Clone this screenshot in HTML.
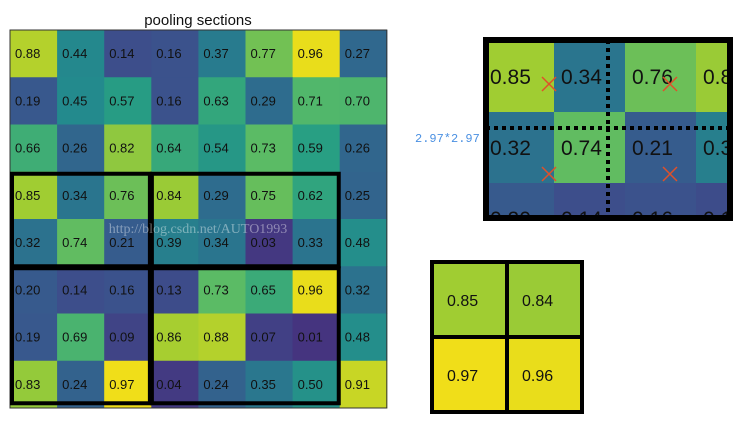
<!DOCTYPE html>
<html><head><meta charset="utf-8"><style>
body{margin:0;background:#fff;width:744px;height:422px;overflow:hidden;font-family:"Liberation Sans","DejaVu Sans",sans-serif}
svg{position:absolute;left:0;top:0}
</style></head><body>
<svg id="s" width="744" height="422">
<defs><clipPath id="zc"><rect x="486" y="40" width="244" height="178"/></clipPath></defs>
<text x="198" y="25" text-anchor="middle" font-size="15" fill="#111">pooling sections</text>
<g id="grid"></g>
<g id="pools"></g>
<text x="198" y="233" text-anchor="middle" font-size="14" fill="#ffffff" fill-opacity="0.4" font-family="Liberation Serif,serif">http://blog.csdn.net/AUTO1993</text>
<g id="zoomp"></g>
<text x="415" y="142" font-size="12" fill="#4a90e2" font-family="Liberation Mono,monospace">2.97*2.97</text>
<g id="outp"></g>
</svg>
<script>
const values=[
[0.88,0.44,0.14,0.16,0.37,0.77,0.96,0.27],
[0.19,0.45,0.57,0.16,0.63,0.29,0.71,0.70],
[0.66,0.26,0.82,0.64,0.54,0.73,0.59,0.26],
[0.85,0.34,0.76,0.84,0.29,0.75,0.62,0.25],
[0.32,0.74,0.21,0.39,0.34,0.03,0.33,0.48],
[0.20,0.14,0.16,0.13,0.73,0.65,0.96,0.32],
[0.19,0.69,0.09,0.86,0.88,0.07,0.01,0.48],
[0.83,0.24,0.97,0.04,0.24,0.35,0.50,0.91]];
const pooled=[[0.85,0.84],[0.97,0.96]];
const poolCols=[[0,2.97],[2.97,6.98]];
const poolRows=[[3,5],[5,7.9]];
const NS='http://www.w3.org/2000/svg';
const stops=[[0,[70,50,126]],[0.15,[60,80,140]],[0.3,[45,110,142]],[0.45,[35,138,141]],[0.6,[40,160,130]],[0.72,[85,185,105]],[0.85,[160,205,50]],[0.97,[240,222,25]],[1.01,[245,225,25]]];
function vir(v){for(let i=1;i<stops.length;i++){if(v<=stops[i][0]){const a=stops[i-1],b=stops[i],t=(v-a[0])/(b[0]-a[0]);const c=a[1].map((x,k)=>Math.round(x+(b[1][k]-x)*t));return `rgb(${c})`;}}return 'rgb(240,222,25)';}
function mk(tag,at,p){const e=document.createElementNS(NS,tag);for(const k in at)e.setAttribute(k,at[k]);p.appendChild(e);return e;}
const X0=10,Y0=30,CW=47.1,CH=47.25;
const gx=c=>X0+c*CW, gy=r=>Y0+r*CH;
const g=document.getElementById('grid');
values.forEach((row,r)=>row.forEach((v,c)=>{
 const re=mk('rect',{x:gx(c),y:gy(r),width:CW+0.5,height:CH+0.5,fill:vir(v)},g);
 
 
 const t=mk('text',{x:gx(c)+5,y:gy(r)+28,'font-size':13,fill:'#111'},g);t.textContent=v.toFixed(2);
 
 
}));
mk('rect',{x:X0,y:Y0,width:8*CW,height:8*CH,fill:'none',stroke:'#333','stroke-width':1},g);
const p=document.getElementById('pools');
poolRows.forEach(rr=>poolCols.forEach(cc=>{
 const b=mk('rect',{x:gx(cc[0])+2,y:gy(rr[0])+2,width:(cc[1]-cc[0])*CW-2,height:(rr[1]-rr[0])*CH-2,fill:'none',stroke:'#000','stroke-width':4},p);
 
 
}));
// zoom panel
const z=document.getElementById('zoomp');
const zin=mk('g',{'clip-path':'url(#zc)'},z);
const ZX=483,ZY=41,ZS=71;
for(let r=0;r<3;r++)for(let c=0;c<4;c++){
 const v=values[3+r][c];
 const re=mk('rect',{x:ZX+c*ZS,y:ZY+r*ZS,width:ZS+0.5,height:ZS+0.5,fill:vir(v)},zin);
 
 
 const t=mk('text',{x:ZX+c*ZS+7,y:ZY+r*ZS+43,'font-size':21,fill:'#111'},zin);t.textContent=v.toFixed(2);
}
mk('line',{x1:608,y1:40,x2:608,y2:218,stroke:'#000','stroke-width':4,'stroke-dasharray':'4 4'},zin);
mk('line',{x1:486,y1:128,x2:730,y2:128,stroke:'#000','stroke-width':4,'stroke-dasharray':'4 4'},zin);
[[549,84],[670,84],[549,174],[670,174]].forEach(([x,y])=>{
 mk('path',{d:`M${x-7} ${y-7}L${x+7} ${y+7}M${x+7} ${y-7}L${x-7} ${y+7}`,stroke:'#e0502a','stroke-width':1.5},zin);
});
mk('rect',{x:486,y:40,width:244,height:178,fill:'none',stroke:'#000','stroke-width':6},z);
// output
const o=document.getElementById('outp');
const OX=432,OY=262,OS=75;
pooled.forEach((row,r)=>row.forEach((v,c)=>{
 const re=mk('rect',{x:OX+c*OS,y:OY+r*OS,width:OS,height:OS,fill:vir(v),stroke:'#000','stroke-width':4},o);
 
 
 const t=mk('text',{x:OX+c*OS+15,y:OY+r*OS+44,'font-size':16,fill:'#111'},o);t.textContent=v.toFixed(2);
 
 
}));
</script>
</body></html>
